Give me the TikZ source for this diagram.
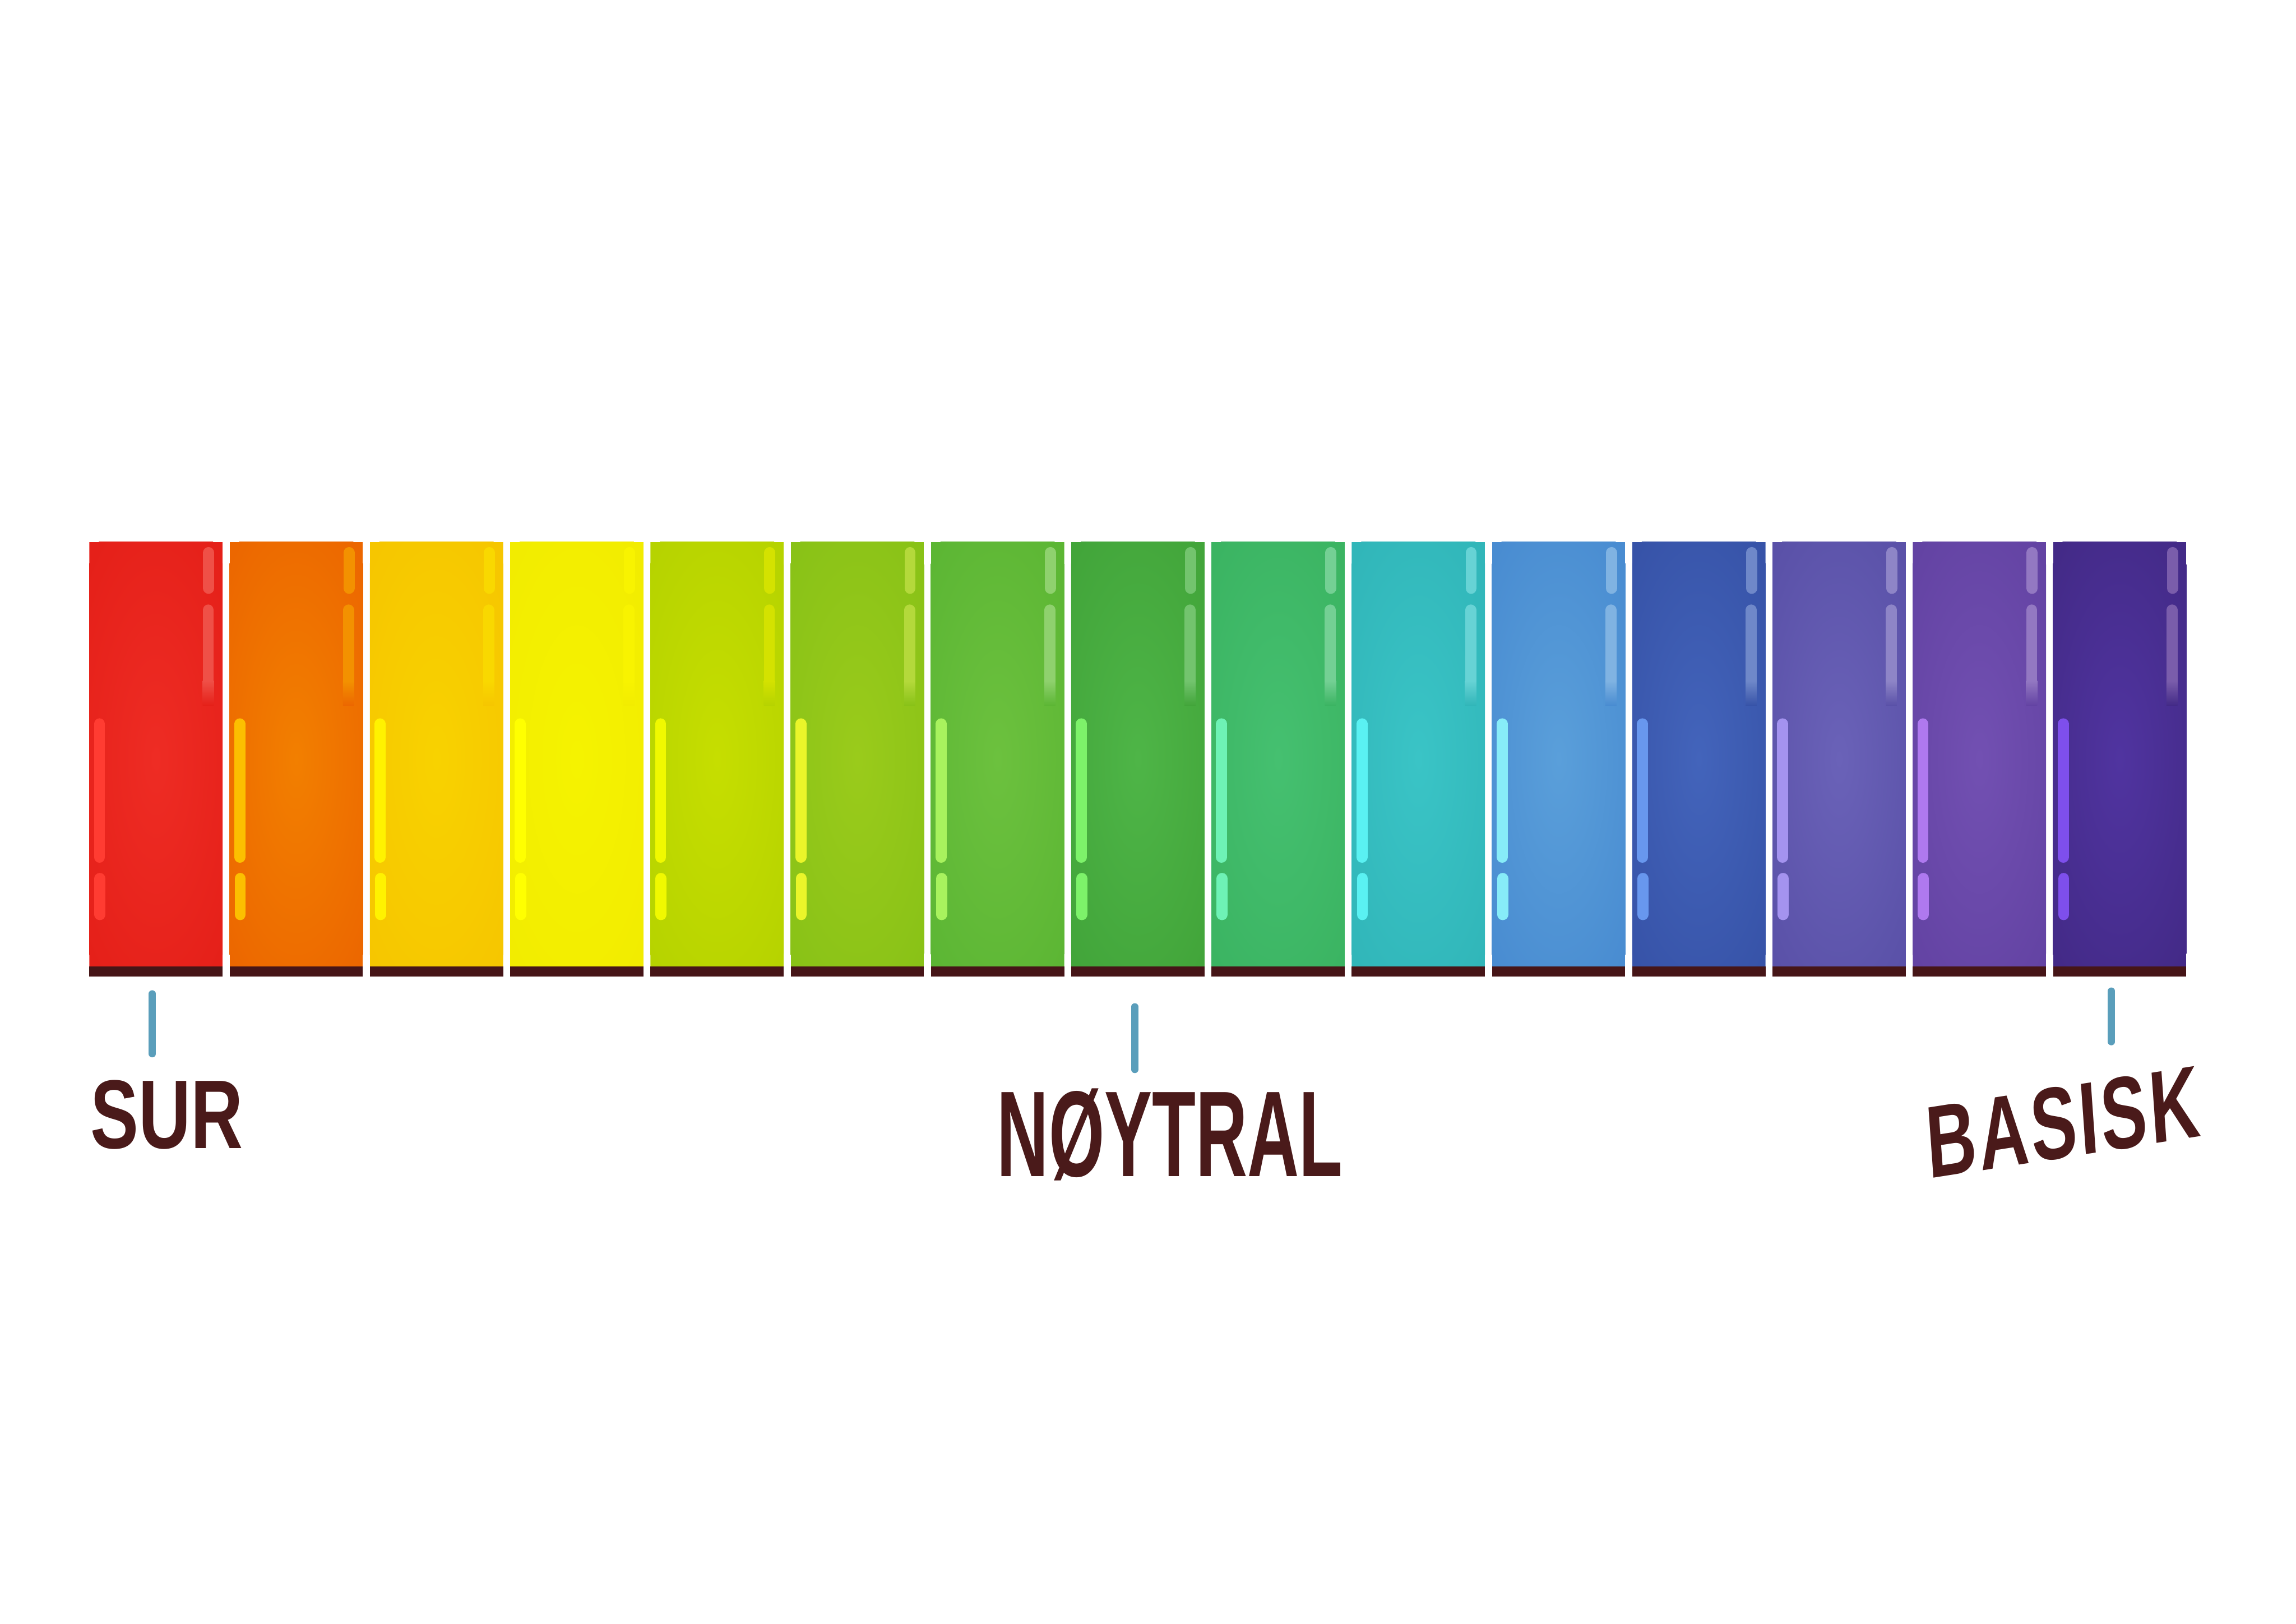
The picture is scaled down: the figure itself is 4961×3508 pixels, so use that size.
\documentclass[tikz,border=0pt]{standalone}
\usepackage{fontspec}
\setmainfont{Liberation Sans}
\definecolor{band}{HTML}{461517}
\definecolor{ink}{HTML}{4A1A1A}
\definecolor{tick}{HTML}{5A9EBB}
\tikzset{
  pill/.style={line width=0.24cm, line cap=round},
  ticksty/.style={draw=tick, line width=0.15cm, line cap=round},
  label/.style={text=ink, inner sep=0pt, anchor=center}
}
\begin{document}
\begin{tikzpicture}[x=0.01cm,y=-0.01cm]
\fill[white] (0,0) rectangle (4961,3508);
\useasboundingbox (0,0) rectangle (4961,3508);
\foreach \i/\base/\glow/\tr/\lp in {
 0/E52019/EE2C24/EF5047/FF3C32,
 1/EC6700/F27F00/F39100/FCBF00,
 2/F6C600/F8D200/F9D800/FFF200,
 3/F2EC00/F5F300/F8F300/FFFF00,
 4/B6D300/C6DE00/D4E200/F0F900,
 5/89C217/9ACB1B/B4D93B/EAF52A,
 6/5CB634/6CC13E/8FD16E/A8F25E,
 7/42A53A/4EB547/73C46E/7DF26A,
 8/3BB462/45C070/74D094/6EF2B5,
 9/31B6B9/3AC4C6/67D3D5/5AF1F2,
 10/498CD1/5A9FDA/80B3E2/87ECF8,
 11/3753A8/4364BB/6F88C9/6897EE,
 12/5A51A8/6A62B8/8E85C7/A493EF,
 13/6343A3/7250B2/9378C2/AF79EF,
 14/432A87/5034A0/7A5DAB/7E4FEC}{
  \definecolor{cbase}{HTML}{\base}
  \definecolor{cglow}{HTML}{\glow}
  \definecolor{ctr}{HTML}{\tr}
  \definecolor{clp}{HTML}{\lp}
  \pgfmathsetmacro\L{193+303.07*\i}
  \begin{scope}
    \clip (\L,1171) rectangle ++(288,917);
    \fill[cbase] (\L,1171) rectangle ++(288,917);
    \shade[inner color=cglow, outer color=cbase] (\L+144,1640) ellipse (210 and 580);
  \end{scope}
  \draw[pill, draw=ctr] (\L+258,1194) -- (\L+258,1271);
  \draw[pill, draw=ctr] (\L+257,1318) -- (\L+257,1471);
  \shade[top color=ctr, bottom color=cbase] (\L+245,1471) rectangle (\L+269,1524);
  \draw[pill, draw=clp] (\L+22,1564) -- (\L+22,1852);
  \draw[pill, draw=clp] (\L+23,1898) -- (\L+23,1976);
  \fill[band] (\L,2088) rectangle ++(288,22);
}
% ticks
\coordinate (ts1) at (329,2147);
\coordinate (ts2) at (329,2277);
\coordinate (tn1) at (2452,2175);
\coordinate (tn2) at (2452,2311);
\coordinate (tb1) at (4562,2141);
\coordinate (tb2) at (4562,2251);
\draw[ticksty] (ts1) -- (ts2);
\draw[ticksty] (tn1) -- (tn2);
\draw[ticksty] (tb1) -- (tb2);
% labels
\node[label, font=\bfseries\fontsize{60}{60}\selectfont, xscale=0.74] (sur) at (360,2408) {SUR};
\node[label, font=\bfseries\fontsize{75}{75}\selectfont, xscale=0.586] (noytral) at (2528,2452) {NØYTRAL};
\node[label, font=\bfseries\fontsize{63}{63}\selectfont\addfontfeatures{LetterSpace=4}, xscale=0.672, rotate=6] (basisk) at (4457,2425) {BASISK};
\end{tikzpicture}
\end{document}
